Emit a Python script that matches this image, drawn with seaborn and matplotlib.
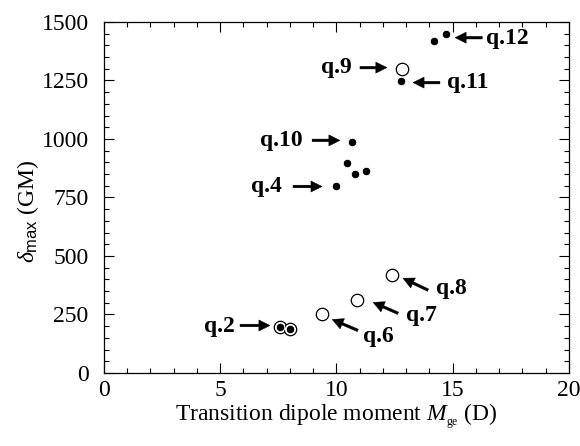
import matplotlib
matplotlib.use("Agg")
import matplotlib.pyplot as plt
from matplotlib.ticker import MultipleLocator
import seaborn as sns
import pandas as pd

# Data
filled_x = [7.57, 8.00, 9.98, 10.47, 10.80, 11.25, 10.67, 12.77, 14.19, 14.70]
filled_y = [196, 189, 801, 897, 851, 865, 989, 1248, 1418, 1448]
open_x = [7.57, 8.00, 9.36, 10.90, 12.40, 12.80]
open_y = [196, 189, 254, 311, 418, 1297]

# labels: text, text anchor, alignment, arrow tail, arrow tip
labels = ["q.12", "q.9", "q.11", "q.10", "q.4", "q.2", "q.6", "q.7", "q.8"]
label_xy = [(16.43, 1430), (10.67, 1305), (14.75, 1243), (8.56, 994), (7.66, 797),
            (5.63, 199), (11.14, 157), (12.99, 245), (14.28, 362)]
label_ha = ["left", "right", "left", "right", "right", "right", "left", "left", "left"]
arrow_tail = [(16.27, 1433), (11.01, 1305), (14.45, 1241), (8.95, 994), (8.13, 797),
              (5.85, 203), (10.92, 182), (12.65, 255), (13.94, 354)]
arrow_tip = [(15.10, 1433), (12.17, 1305), (13.29, 1241), (10.15, 994), (9.38, 797),
             (7.14, 203), (9.81, 229), (11.57, 302), (12.86, 405)]

sns.set_style("ticks")
plt.rcParams["font.family"] = ["Liberation Serif", "DejaVu Serif"]
plt.rcParams["mathtext.fontset"] = "custom"
plt.rcParams["mathtext.rm"] = "Liberation Serif"
plt.rcParams["mathtext.it"] = "Liberation Serif:italic"
plt.rcParams["mathtext.sf"] = "Liberation Sans"
for k in ["text.color", "axes.labelcolor", "xtick.color", "ytick.color", "axes.edgecolor"]:
    plt.rcParams[k] = "black"

fig = plt.figure(figsize=(5.8, 4.46), dpi=100)
ax = fig.add_axes([0.1793, 0.1637, 0.981 - 0.1793, 0.9507 - 0.1637])

df_open = pd.DataFrame({"x": open_x, "y": open_y})
df_fill = pd.DataFrame({"x": filled_x, "y": filled_y})
sns.scatterplot(data=df_open, x="x", y="y", ax=ax, s=80, facecolor="white",
                edgecolor="black", linewidth=0.9, zorder=3)
sns.scatterplot(data=df_fill, x="x", y="y", ax=ax, s=38, color="black",
                edgecolor="white", linewidth=0.7, zorder=4)

for t, (tx, ty), ha, tail, tip in zip(labels, label_xy, label_ha, arrow_tail, arrow_tip):
    ax.text(tx, ty, t, ha=ha, va="center", fontsize=17, fontweight="bold")
    ax.annotate("", xy=tip, xytext=tail,
                arrowprops=dict(width=1.9, headwidth=8, headlength=8, shrink=0,
                                facecolor="black", edgecolor="black", lw=0.3))

ax.set_xlim(0, 20)
ax.set_ylim(0, 1500)
ax.xaxis.set_major_locator(MultipleLocator(5))
ax.xaxis.set_minor_locator(MultipleLocator(1))
ax.yaxis.set_major_locator(MultipleLocator(250))
ax.yaxis.set_minor_locator(MultipleLocator(50))
ax.tick_params(which="both", direction="in", top=True, right=True, labelsize=17, width=0.8)
ax.tick_params(which="major", length=7)
ax.tick_params(axis="y", which="major", pad=11)
ax.tick_params(axis="x", which="major", pad=5)
ax.tick_params(which="minor", length=3.5)
for sp in ax.spines.values():
    sp.set_linewidth(0.9)

ax.set_xlabel(r"Transition dipole moment $M_{_{\rm ge}}$ (D)", fontsize=17, labelpad=1)
ax.set_ylabel(r"$\delta_{\mathsf{max}}$ (GM)", fontsize=17)
ax.yaxis.set_label_coords(-0.135, 0.46)

fig.savefig("out.png", dpi=100)
